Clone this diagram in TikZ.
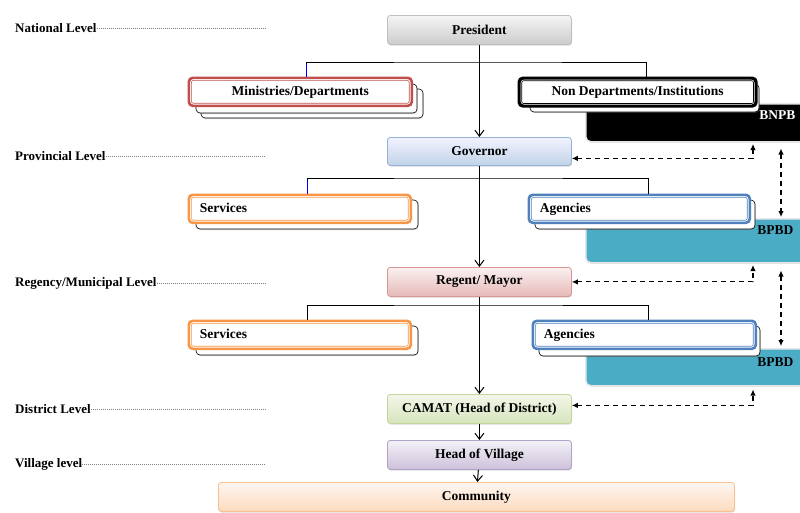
\documentclass[tikz,border=0pt]{standalone}
\usepackage{fontspec}
\setmainfont{Liberation Serif}
\usetikzlibrary{calc,shadows,arrows.meta}

\definecolor{minred}{RGB}{192,80,77}
\definecolor{svcorange}{RGB}{247,150,70}
\definecolor{agcblue}{RGB}{79,129,189}
\definecolor{bpbdteal}{RGB}{75,172,198}
\definecolor{villtop}{RGB}{244,241,248}
\definecolor{villbottom}{RGB}{204,193,218}
\definecolor{villedge}{RGB}{179,162,199}
\definecolor{camattop}{RGB}{242,247,233}
\definecolor{camatbottom}{RGB}{215,228,189}
\definecolor{camatedge}{RGB}{195,214,155}

\tikzset{
	boxfont/.style={font=\bfseries\fontsize{13.5}{15}\selectfont},
	levelfont/.style={font=\bfseries\fontsize{13}{15}\selectfont, anchor=west, inner sep=0pt},
	levelline/.style={gray, line width=0.6pt, dash pattern=on 1pt off 1pt},
	office/.style n args={3}{boxfont, anchor=north west, rounded corners=3pt, minimum width=184pt, minimum height=29pt, inner sep=0pt, line width=0.8pt, draw=#3, top color=#1, bottom color=#2, drop shadow={shadow xshift=0.6pt, shadow yshift=-1.2pt, opacity=0.3}},
	deptbox/.style={boxfont, anchor=north west, fill=white, draw=#1, line width=2.6pt, rounded corners=4pt, minimum height=28pt, inner sep=0pt, text height=9.5pt, text depth=3pt,
		path picture={\draw[#1, line width=0.6pt, rounded corners=2pt] ([shift={(2.6pt,-2.6pt)}]path picture bounding box.north west) rectangle ([shift={(-2.6pt,2.6pt)}]path picture bounding box.south east);}},
	lefttext/.style={text width=#1, align=left, inner xsep=11pt},
	backcard/.style={draw=black, line width=0.6pt, fill=white, rounded corners=4pt, drop shadow={shadow xshift=0.5pt, shadow yshift=-1pt, opacity=0.3}},
	panel/.style={anchor=north west, fill=#1, draw=white!82!gray, line width=1.5pt, rounded corners=5pt, drop shadow={shadow xshift=0.6pt, shadow yshift=-1pt, opacity=0.3}},
	flow/.style={-{Straight Barb[length=6pt, width=9pt, line width=1pt]}, line width=1pt},
	bar/.style={line width=0.9pt},
	dashlink/.style={{Latex[length=6pt, width=5.5pt]}-{Latex[length=6pt, width=5.5pt]}, line width=1.1pt, dash pattern=on 5pt off 4pt}
}

\begin{document}
\begin{tikzpicture}[x=1pt, y=-1pt]
	\useasboundingbox (0,0) rectangle (800,512);
	\clip (0,0) rectangle (800,512);

	\coordinate (lvlend) at (265,0);
	\coordinate (gx) at (753,0);
	\coordinate (vx) at (781,0);

	% panels on the right
	\node[panel=black, minimum width=230pt, minimum height=38pt] (bnpb) at (585,103) {};
	\node[panel=bpbdteal, minimum width=230pt, minimum height=44pt] (bpbdprov) at (585,218) {};
	\node[panel=bpbdteal, minimum width=230pt, minimum height=37pt] (bpbdreg) at (585,348) {};
	\node[boxfont, anchor=east, white] (bnpbtext) at (799,115) {BNPB};
	\node[boxfont, anchor=east] (bpbdptext) at (797,230) {BPBD};
	\node[boxfont, anchor=east] (bpbdrtext) at (797,362) {BPBD};

	% cards behind
	\draw[backcard] (201,89) rectangle (423,118);
	\draw[backcard] (196,84) rectangle (417,113);
	\draw[backcard] (530,84) rectangle (759,112);
	\draw[backcard] (196,200) rectangle (418,229);
	\draw[backcard] (535,200) rectangle (755,229);
	\draw[backcard] (196,326) rectangle (418,355);
	\draw[backcard] (539,326) rectangle (760,356);

	\node[deptbox=minred, minimum width=223pt] (mins) at (187.5,76.5) {Ministries/Departments};
	\node[deptbox=black, line width=3.2pt, minimum width=237pt] (nondep) at (517.5,76.5) {Non Departments/Institutions};
	\node[deptbox=svcorange, lefttext=200pt] (svcprov) at (187.5,193.5) {Services};
	\node[deptbox=agcblue, lefttext=199pt] (agcprov) at (527.5,193.5) {Agencies};
	\node[deptbox=svcorange, lefttext=200pt] (svcreg) at (187.5,319.5) {Services};
	\node[deptbox=agcblue, lefttext=201pt] (agcreg) at (531.5,319.5) {Agencies};

	\node[office={white!92!gray}{white!60!gray}{white!50!gray}] (pres) at (387,15) {President};
	\node[office={blue!5!white}{agcblue!35!white}{agcblue!60!white}, minimum height=28pt] (gov) at (387,137) {Governor};
	\node[office={minred!8!white}{minred!40!white}{minred!60!white}] (reg) at (387,267) {Regent/ Mayor};
	\node[office={camattop}{camatbottom}{camatedge}] (camat) at (387,394) {CAMAT (Head of District)};
	\node[office={villtop}{villbottom}{villedge}] (village) at (387,440) {Head of Village};
	\node[office={svcorange!8!white}{svcorange!35!white}{svcorange!60!white}, minimum width=516pt] (comm) at (218,482) {Community};

	% chain of command
	\draw[flow] (pres) -- (gov);
	\draw[flow] (gov) -- (reg);
	\draw[flow] (reg) -- (camat);
	\draw[flow] (camat) -- (village);
	\draw[flow] (village) -- (comm);

	\coordinate (natbar) at (479,62);
	\coordinate (provbar) at (479,178);
	\coordinate (regbar) at (479,305);
	\draw[bar] ([xshift=6pt]mins.north) |- (natbar) -| ([xshift=9pt]nondep.north);
	\draw[bar, blue] ([xshift=6pt]mins.north) -- ++(0,-13);
	\draw[bar] ([xshift=7.5pt]svcprov.north) |- (provbar) -| ([xshift=9pt]agcprov.north);
	\draw[bar, blue] ([xshift=7.5pt]svcprov.north) -- ++(0,-14);
	\draw[bar] ([xshift=7.5pt]svcreg.north) |- (regbar) -| ([xshift=4pt]agcreg.north);

	% coordination with disaster agencies
	\coordinate (bnpbfoot) at (bnpb.south -| gx);
	\coordinate (bpbdpfoot) at (bpbdprov.south -| gx);
	\coordinate (bpbdrfoot) at (bpbdreg.south -| gx);
	\coordinate (bnpbdown) at (bnpb.south -| vx);
	\coordinate (bpbdpup) at (bpbdprov.north -| vx);
	\coordinate (bpbdpdown) at (bpbdprov.south -| vx);
	\coordinate (bpbdrup) at (bpbdreg.north -| vx);
	\draw[dashlink] ([yshift=-7pt]gov.east) -| ([yshift=-1.5pt]bnpbfoot);
	\draw[dashlink] (reg.east) -| ([yshift=-1.5pt]bpbdpfoot);
	\draw[dashlink] ([yshift=3.5pt]camat.east) -| ([yshift=-3pt]bpbdrfoot);
	\draw[dashlink] ([yshift=-6pt]bnpbdown) -- ([yshift=1pt]bpbdpup);
	\draw[dashlink] ([yshift=-7pt]bpbdpdown) -- ([yshift=2pt]bpbdrup);

	% levels
	\node[levelfont] (natl) at (15,28) {National Level};
	\node[levelfont] (prov) at (15,156) {Provincial Level};
	\node[levelfont] (regency) at (15,283) {Regency/Municipal Level};
	\node[levelfont] (dist) at (15,409) {District Level};
	\node[levelfont] (vill) at (15,464) {Village level};
	\foreach \lvl in {natl,prov,regency,dist,vill}
		\draw[levelline] (\lvl.east) -- (\lvl.east -| lvlend);
\end{tikzpicture}
\end{document}
